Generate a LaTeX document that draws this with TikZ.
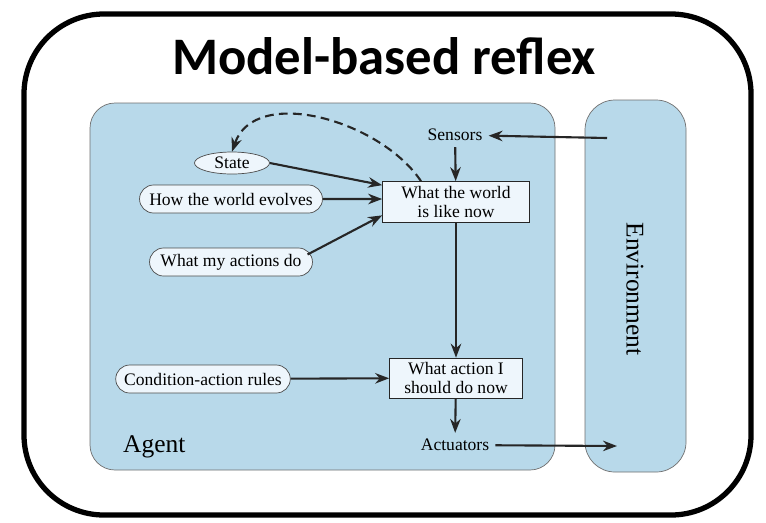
\documentclass[tikz,border=0pt]{standalone}
\usepackage{fontspec}
\setmainfont{Liberation Serif}
\newfontfamily\titlefont{Carlito}
\usetikzlibrary{arrows.meta,positioning,shapes.geometric,shapes.misc}
\definecolor{agentBlue}{HTML}{B8D9EA}
\definecolor{nodeBlue}{HTML}{EEF6FC}
\definecolor{edgeGray}{HTML}{707070}
\tikzset{
  flow/.style={-{Stealth[length=2.8mm,width=2.1mm]}, line width=1.2pt, draw=black!85},
  panel/.style={draw=edgeGray, fill=agentBlue, rounded corners=0.5cm},
  model box/.style={rounded rectangle, draw=black!70, fill=nodeBlue,
    minimum height=5.6mm, inner xsep=4pt, font=\fontsize{10}{11}\selectfont},
  state oval/.style={ellipse, draw=black!70, fill=nodeBlue,
    minimum width=1.5cm, minimum height=4.4mm, inner sep=0pt,
    font=\fontsize{10}{11}\selectfont},
  decide box/.style={rectangle, draw=black!85, fill=nodeBlue, align=center,
    inner sep=1pt, font=\fontsize{10}{10.5}\selectfont},
  port label/.style={font=\fontsize{10}{11}\selectfont}
}
\begin{document}
\begin{tikzpicture}[x=0.02cm, y=-0.02cm]
  \useasboundingbox (0,0) rectangle (766,522);
  \fill[white] (0,0) rectangle (766,522);

  % outer frame and title
  \draw[line width=3pt, rounded corners=1.6cm] (24,14) rectangle (751,515);
  \node[font=\titlefont\bfseries\fontsize{30}{32}\selectfont] (title) at (384,56)
    {Model-based reflex};

  % agent and environment
  \draw[panel] (90,103) rectangle (555,470);
  \draw[panel, rounded corners=0.6cm] (585,100) rectangle (686,472);
  \node[font=\fontsize{14.5}{16}\selectfont, anchor=west] (agent) at (117,447) {Agent};
  \node[font=\fontsize{14.5}{16}\selectfont, rotate=-90] (env) at (635,289) {Environment};

  \node[port label] (sensors) at (455,135) {Sensors};
  \node[port label] (actuators) at (455,445) {Actuators};
  \coordinate (envin) at (607,138);
  \coordinate (envout) at (617,446);

  \node[decide box, minimum width=2.94cm, minimum height=8.2mm] (world) at (456,202)
    {What the world\\is like now};
  \node[decide box, minimum width=2.66cm, minimum height=8mm] (action) at (456,378)
    {What action I\\should do now};

  \node[state oval] (state) at (232,163) {State};
  \node[model box, minimum width=3.94cm] (evolves) at (231,199) {How the world evolves};
  \node[model box, minimum width=3.54cm] (actions) at (231,262) {What my actions do};
  \node[model box, minimum width=3.2cm] (rules) at (203,379) {Condition-action rules};

  \draw[flow] (envin) -- (sensors);
  \draw[flow] (sensors) -- (world);
  \draw[flow] (state.east) -- ([yshift=-0.08cm]world.north west);
  \draw[flow] (evolves) -- (world.west |- evolves);
  \draw[flow] ([xshift=-3pt, yshift=0.15cm]actions.east) -- ([yshift=0.15cm]world.south west);
  \draw[flow] (world) -- (action);
  \draw[flow] (rules) -- (action);
  \draw[flow] (action) -- (actuators);
  \draw[flow] (actuators) -- (envout);
  \draw[flow, dashed, dash pattern=on 5pt off 3pt]
    ([xshift=-0.7cm]world.north) .. controls (380,120) and (255,85) .. (state.north);
\end{tikzpicture}
\end{document}
